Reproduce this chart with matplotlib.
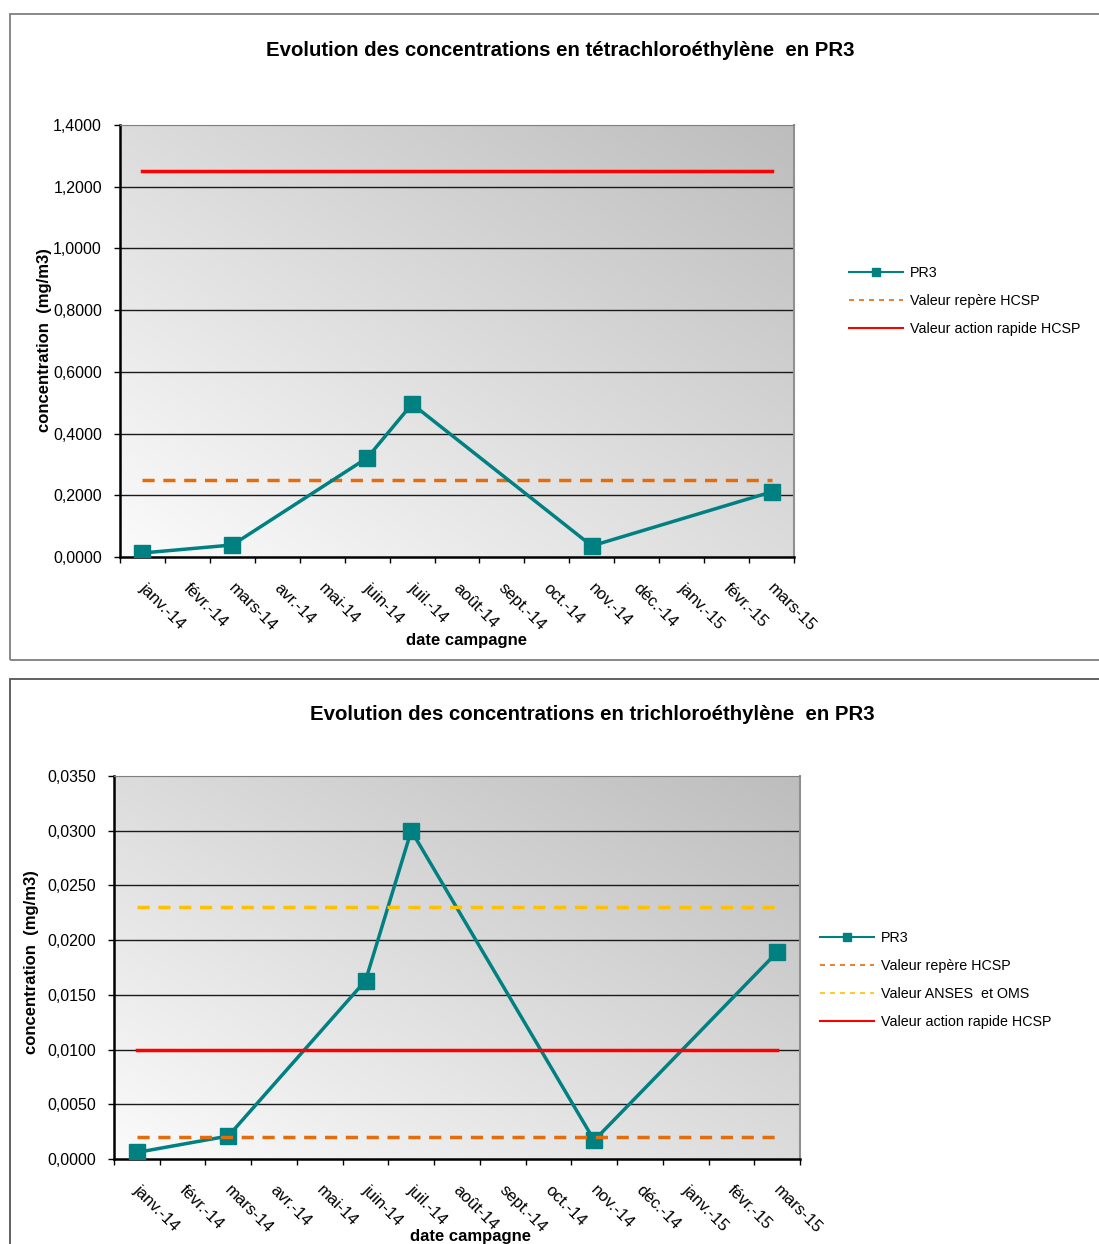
import numpy as np
import matplotlib
matplotlib.use('Agg')
import matplotlib.pyplot as plt
from matplotlib.patches import Rectangle
from matplotlib.colors import LinearSegmentedColormap

plt.rcParams['font.family'] = ['Liberation Sans', 'DejaVu Sans']

# months on the x axis
months = ['janv.-14', 'févr.-14', 'mars-14', 'avr.-14', 'mai-14', 'juin-14', 'juil.-14',
          'août-14', 'sept.-14', 'oct.-14', 'nov.-14', 'déc.-14', 'janv.-15', 'févr.-15', 'mars-15']

# sampling campaigns (index in months)
pr3_idx = [0, 2, 5, 6, 10, 14]

# tetrachloroethylene
tetra_pr3 = [0.013, 0.039, 0.321, 0.496, 0.036, 0.211]
tetra_repere = 0.25
tetra_action = 1.25
tetra_ticks = [0, 0.2, 0.4, 0.6, 0.8, 1.0, 1.2, 1.4]

# trichloroethylene
tri_pr3 = [0.0006, 0.0021, 0.0163, 0.0300, 0.0017, 0.0189]
tri_repere = 0.002
tri_anses = 0.023
tri_action = 0.010
tri_ticks = [0, 0.005, 0.01, 0.015, 0.02, 0.025, 0.03, 0.035]

W, H = 1099, 1244
fig = plt.figure(figsize=(W / 100, H / 100), dpi=100)
fig.patch.set_facecolor('white')

# outer chart boxes
fig.add_artist(Rectangle((10 / W, 1 - 660 / H), 1.2, 646 / H, transform=fig.transFigure,
                         fill=False, edgecolor='#7f7f7f', lw=1.3))
fig.add_artist(Rectangle((10 / W, -0.1), 1.2, (0.1 * H + H - 679) / H, transform=fig.transFigure,
                         fill=False, edgecolor='#555555', lw=1.3))

grad_cmap = LinearSegmentedColormap.from_list('g', ['#fbfbfb', '#bdbdbd'])
teal = '#008080'
orange = '#E46C0A'
yellow = '#FFC000'
red = '#FF0000'


def gradient_bg(ax):
    n = 200
    xx, yy = np.meshgrid(np.linspace(0, 1, n), np.linspace(0, 1, n))
    z = (xx + yy) / 2
    ax.imshow(z, extent=(0, 1, 0, 1), transform=ax.transAxes, origin='lower',
              cmap=grad_cmap, aspect='auto', zorder=0, interpolation='bilinear')


def setup(ax, ticks, fmt, ymax):
    x = np.arange(len(months))
    ax.set_xlim(-0.5, len(months) - 0.5)
    ax.set_ylim(0, ymax)
    gradient_bg(ax)
    ax.set_yticks(ticks)
    ax.set_yticklabels([fmt.format(t).replace('.', ',') for t in ticks], fontsize=11.5)
    for t in ticks[1:-1]:
        ax.axhline(t, color='#1a1a1a', lw=1.0, zorder=1)
    ax.axhline(ticks[-1], color='#808080', lw=1.5, zorder=1)
    ax.set_xticks(np.arange(len(months) + 1) - 0.5)
    ax.set_xticklabels([])
    ax.tick_params(axis='x', length=4, width=1, color='black', direction='out')
    ax.tick_params(axis='y', length=4, width=1, color='black', direction='out', pad=9)
    for i, m in enumerate(months):
        ax.annotate(m, xy=(x[i], 0), xycoords=('data', 'axes fraction'),
                    xytext=(3, -17), textcoords='offset points',
                    rotation=-45, ha='left', va='top', rotation_mode='anchor',
                    fontsize=12)
    ax.spines['left'].set_color('black')
    ax.spines['left'].set_linewidth(1.8)
    ax.spines['bottom'].set_color('black')
    ax.spines['bottom'].set_linewidth(1.8)
    ax.spines['top'].set_color('#808080')
    ax.spines['right'].set_color('#909090')
    ax.spines['right'].set_linewidth(1.5)
    return x


def legend(handles, labels, x0, yc):
    fig.legend(handles, labels, loc='center left', bbox_to_anchor=(x0 / W, 1 - yc / H),
               frameon=False, fontsize=10.3, handlelength=3.8, labelspacing=0.98,
               handletextpad=0.45, borderpad=0, borderaxespad=0)


# ---------- panel 1 ----------
ax1 = fig.add_axes([120 / W, 1 - 557 / H, 674 / W, 432 / H])
x = setup(ax1, tetra_ticks, '{:.4f}', 1.4)
ax1.plot(x[pr3_idx], tetra_pr3, color=teal, lw=2.5, marker='s', ms=12, zorder=4, label='PR3')
ax1.plot(x, [tetra_repere] * len(months), color=orange, lw=2.5, ls=(0, (3.5, 2.5)), zorder=3,
         label='Valeur repère HCSP')
ax1.plot(x, [tetra_action] * len(months), color=red, lw=2.5, zorder=3,
         label='Valeur action rapide HCSP')
fig.text(560 / W, 1 - 51 / H, 'Evolution des concentrations en tétrachloroéthylène  en PR3',
         ha='center', va='center', fontsize=14.7, fontweight='bold')
fig.text(45 / W, 1 - 340 / H, 'concentration  (mg/m3)', rotation=90, ha='center', va='center',
         fontsize=12, fontweight='bold')
fig.text(466 / W, 1 - 641 / H, 'date campagne', ha='center', va='center',
         fontsize=12, fontweight='bold')
h, l = ax1.get_legend_handles_labels()
h[0] = plt.Line2D([], [], color=teal, lw=1.5, marker='s', ms=6)
h[1] = plt.Line2D([], [], color=orange, lw=1.2, ls=(0, (3, 3)))
h[2] = plt.Line2D([], [], color=red, lw=1.5)
legend(h, l, 849, 301)

# ---------- panel 2 ----------
ax2 = fig.add_axes([114 / W, 1 - 1159 / H, 686 / W, 383 / H])
x = setup(ax2, tri_ticks, '{:.4f}', 0.035)
ax2.plot(x[pr3_idx], tri_pr3, color=teal, lw=2.5, marker='s', ms=12, zorder=3, label='PR3')
ax2.plot(x, [tri_repere] * len(months), color=orange, lw=2.5, ls=(0, (3.5, 2.5)), zorder=4,
         label='Valeur repère HCSP')
ax2.plot(x, [tri_anses] * len(months), color=yellow, lw=2.5, ls=(0, (3.5, 2.5)), zorder=4,
         label='Valeur ANSES  et OMS')
ax2.plot(x, [tri_action] * len(months), color=red, lw=2.5, zorder=4,
         label='Valeur action rapide HCSP')
fig.text(592 / W, 1 - 715 / H, 'Evolution des concentrations en trichloroéthylène  en PR3',
         ha='center', va='center', fontsize=14.7, fontweight='bold')
fig.text(32 / W, 1 - 962 / H, 'concentration  (mg/m3)', rotation=90, ha='center', va='center',
         fontsize=12, fontweight='bold')
fig.text(471 / W, 1 - 1236 / H, 'date campagne', ha='center', va='center',
         fontsize=12, fontweight='bold')
h, l = ax2.get_legend_handles_labels()
h[0] = plt.Line2D([], [], color=teal, lw=1.5, marker='s', ms=6)
h[1] = plt.Line2D([], [], color=orange, lw=1.2, ls=(0, (3, 3)))
h[2] = plt.Line2D([], [], color=yellow, lw=1.2, ls=(0, (3, 3)))
h[3] = plt.Line2D([], [], color=red, lw=1.5)
legend(h, l, 820, 980)

fig.savefig('out.png', dpi=100)
